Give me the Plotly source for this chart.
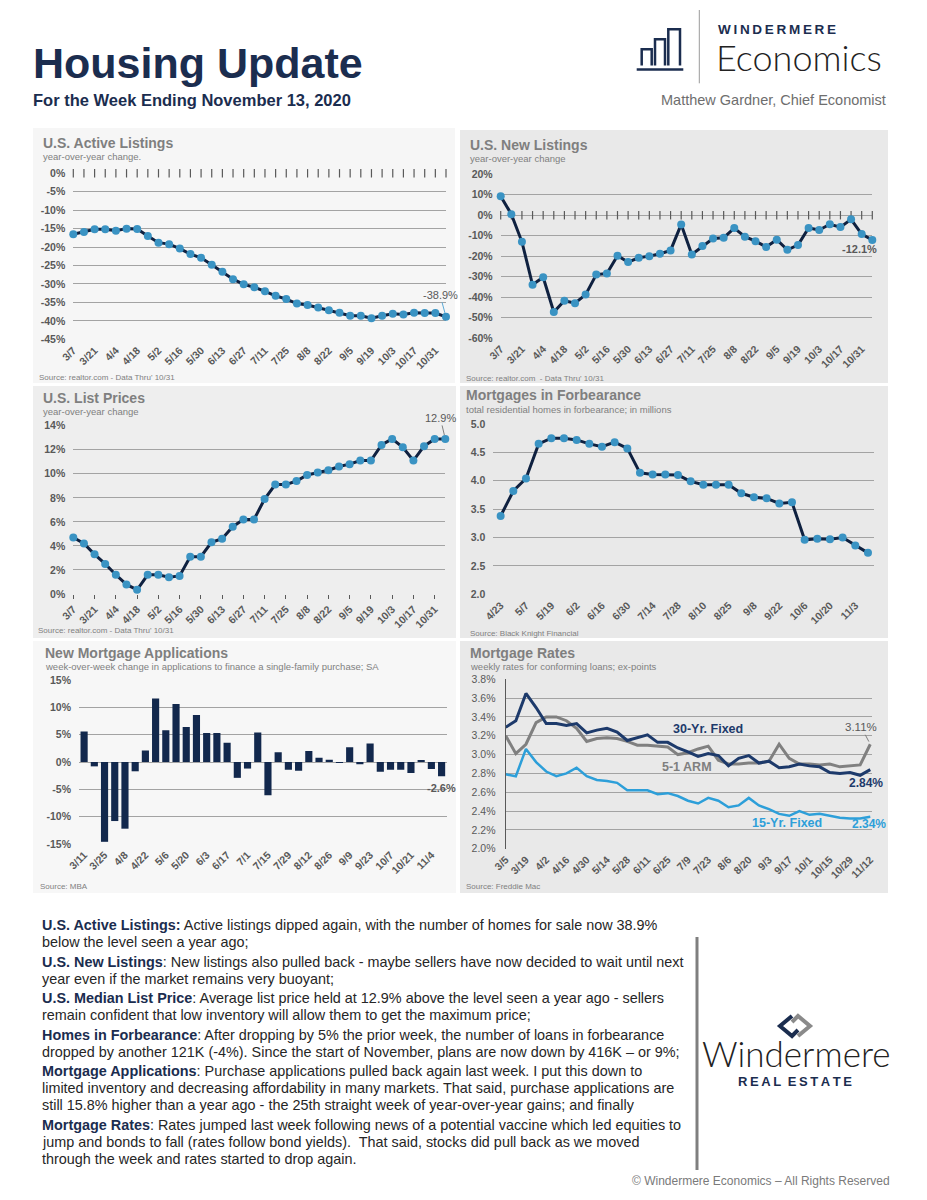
import plotly.graph_objects as go

W, H = 927, 1200
OFF = 8  # page body margin compensation
FONT = "Liberation Sans, Arial, sans-serif"
NAVY = "#1b2d4f"
GRAY = "#7f7f7f"
TICKGRAY = "#595959"
LINE_NAVY = "#0f2140"
MARKER_BLUE = "#3a93c3"


def px(x):
    return (x - OFF) / W


def py(y):
    return 1 - (y - OFF) / H


# ---------------- DATA ----------------
al_dates = ["3/7", "3/14", "3/21", "3/28", "4/4", "4/11", "4/18", "4/25", "5/2", "5/9", "5/16", "5/23",
            "5/30", "6/6", "6/13", "6/20", "6/27", "7/4", "7/11", "7/18", "7/25", "8/1", "8/8", "8/15",
            "8/22", "8/29", "9/5", "9/12", "9/19", "9/26", "10/3", "10/10", "10/17", "10/24", "10/31", "11/7"]
active_listings = [-16.5, -15.9, -15.2, -15.2, -15.6, -15.0, -15.1, -17.0, -18.8, -19.2, -20.4, -21.9,
                   -22.9, -24.8, -26.7, -28.7, -30.1, -30.9, -32.0, -33.2, -34.1, -35.3, -35.7, -36.4,
                   -37.1, -37.8, -38.6, -38.6, -39.3, -38.6, -38.1, -38.3, -37.8, -37.9, -37.9, -38.9]
new_listings = [9.3, 0.5, -13.0, -34.0, -30.3, -47.3, -41.8, -43.0, -38.8, -29.0, -28.5, -19.8,
                -22.9, -20.8, -20.0, -18.8, -17.2, -4.5, -19.2, -15.1, -11.4, -11.0, -6.3, -10.5,
                -12.7, -15.5, -12.0, -16.9, -14.6, -6.2, -7.2, -4.4, -5.8, -2.0, -9.2, -12.1]
list_prices = [4.7, 4.2, 3.3, 2.5, 1.6, 0.8, 0.35, 1.6, 1.6, 1.4, 1.5, 3.1,
               3.1, 4.3, 4.6, 5.6, 6.2, 6.2, 7.9, 9.1, 9.1, 9.4, 9.9, 10.1,
               10.3, 10.6, 10.8, 11.1, 11.1, 12.4, 12.9, 12.2, 11.1, 12.3, 12.9, 12.9]

fb_dates = ["4/23", "4/30", "5/7", "5/12", "5/19", "5/26", "6/2", "6/9", "6/16", "6/23", "6/30", "7/7",
            "7/14", "7/21", "7/28", "8/4", "8/10", "8/18", "8/25", "9/1", "9/8", "9/15", "9/22", "9/29",
            "10/6", "10/13", "10/20", "10/27", "11/3", "11/10"]
forbearance = [3.38, 3.82, 4.04, 4.65, 4.75, 4.75, 4.72, 4.65, 4.60, 4.68, 4.57, 4.14,
               4.11, 4.11, 4.10, 3.99, 3.93, 3.93, 3.93, 3.78, 3.71, 3.69, 3.60, 3.62,
               2.96, 2.98, 2.97, 3.00, 2.86, 2.73]

ma_dates = ["3/11", "3/18", "3/25", "4/1", "4/8", "4/15", "4/22", "4/29", "5/6", "5/13", "5/20", "5/27",
            "6/3", "6/10", "6/17", "6/24", "7/1", "7/8", "7/15", "7/22", "7/29", "8/5", "8/12", "8/19",
            "8/26", "9/2", "9/9", "9/16", "9/23", "9/30", "10/7", "10/14", "10/21", "10/28", "11/4", "11/11"]
mortgage_apps = [5.6, -0.8, -14.6, -10.8, -12.2, -1.7, 2.1, 11.6, 5.8, 10.6, 6.4, 8.6,
                 5.3, 5.3, 3.5, -2.9, -1.2, 5.4, -6.1, 1.8, -1.4, -1.6, 2.0, 0.8,
                 0.4, -0.1, 2.7, -0.4, 3.4, -1.8, -1.4, -1.4, -2.0, 0.2, -1.3, -2.6]

mr_dates = ["3/5", "3/12", "3/19", "3/26", "4/2", "4/9", "4/16", "4/23", "4/30", "5/7", "5/14", "5/21",
            "5/28", "6/4", "6/11", "6/18", "6/25", "7/2", "7/9", "7/16", "7/23", "7/30", "8/6", "8/13",
            "8/20", "8/27", "9/3", "9/10", "9/17", "9/24", "10/1", "10/8", "10/15", "10/22", "10/29",
            "11/5", "11/12"]
fixed30 = [3.29, 3.36, 3.65, 3.50, 3.33, 3.33, 3.31, 3.33, 3.23, 3.26, 3.28, 3.24,
           3.15, 3.18, 3.21, 3.13, 3.13, 3.07, 3.03, 2.98, 3.01, 2.99, 2.88, 2.96,
           2.99, 2.91, 2.93, 2.86, 2.87, 2.90, 2.88, 2.87, 2.81, 2.80, 2.81, 2.78, 2.84]
fixed15 = [2.79, 2.77, 3.06, 2.92, 2.82, 2.77, 2.80, 2.86, 2.77, 2.73, 2.72, 2.70,
           2.62, 2.62, 2.62, 2.58, 2.59, 2.56, 2.51, 2.48, 2.54, 2.51, 2.44, 2.46,
           2.54, 2.46, 2.42, 2.37, 2.35, 2.40, 2.36, 2.37, 2.35, 2.33, 2.32, 2.32, 2.34]
arm51 = [3.20, 3.01, 3.11, 3.34, 3.40, 3.40, 3.36, 3.28, 3.14, 3.17, 3.18, 3.17,
         3.14, 3.10, 3.10, 3.09, 3.08, 3.00, 3.02, 3.06, 3.09, 2.94, 2.90, 2.90,
         2.91, 2.91, 2.93, 3.11, 2.96, 2.90, 2.90, 2.89, 2.90, 2.87, 2.88, 2.89, 3.11]

al_yticks = [0, -5, -10, -15, -20, -25, -30, -35, -40, -45]
nl_yticks = [20, 10, 0, -10, -20, -30, -40, -50, -60]
lp_yticks = [0, 2, 4, 6, 8, 10, 12, 14]
fb_yticks = [2.0, 2.5, 3.0, 3.5, 4.0, 4.5, 5.0]
ma_yticks = [15, 10, 5, 0, -5, -10, -15]
mr_yticks = [2.0, 2.2, 2.4, 2.6, 2.8, 3.0, 3.2, 3.4, 3.6, 3.8]

# ---------------- FIGURE ----------------
fig = go.Figure()
layout = dict(template="none", width=W, height=H, margin=dict(l=0, r=0, t=0, b=0, pad=0, autoexpand=False),
              paper_bgcolor="white", plot_bgcolor="rgba(0,0,0,0)", showlegend=False,
              font=dict(family=FONT))


def pct(v, dec=0):
    return f"{v:.{dec}f}%"


def add_axes(i, xd, yd, xr, yr, ytv, ytt, xcats, ybold=True, xticks=""):
    xk = "xaxis" if i == 1 else f"xaxis{i}"
    yk = "yaxis" if i == 1 else f"yaxis{i}"
    layout[xk] = dict(domain=[px(xd[0]), px(xd[1])], anchor=f"y{i}", type="category",
                      range=xr, showgrid=False, zeroline=False, showline=False, automargin=False,
                      tickmode="array", tickvals=xcats[::2], ticktext=xcats[::2],
                      tickangle=-45, ticks=xticks, ticklen=4, tickcolor=TICKGRAY,
                      tickfont=dict(size=10.5, color=TICKGRAY, family=FONT, weight="bold"),
                      ticklabelstandoff=2, fixedrange=True)
    layout[yk] = dict(domain=[py(yd[1]), py(yd[0])], anchor=f"x{i}", range=yr, automargin=False,
                      showgrid=True, gridcolor="#a3a3a3", gridwidth=1.3, zeroline=False, showline=False,
                      tickmode="array", tickvals=ytv, ticktext=ytt, ticks="",
                      tickfont=dict(size=10.5, color=TICKGRAY, family=FONT,
                                    weight="bold" if ybold else "normal"),
                      ticklabelstandoff=7, fixedrange=True)


def xa(i):
    return "x" if i == 1 else f"x{i}"


def ya(i):
    return "y" if i == 1 else f"y{i}"


# Panel backgrounds
panels = [(33, 128, 455, 383, "#f6f6f6"), (460, 130, 888, 383, "#e9e9e9"),
          (33, 386, 456, 638, "#eeeeee"), (460, 386, 888, 638, "#e9e9e9"),
          (33, 641, 456, 893, "#f7f7f7"), (460, 641, 888, 893, "#e9e9e9")]
shapes = []
for x0, y0, x1, y1, c in panels:
    shapes.append(dict(type="rect", xref="paper", yref="paper", x0=px(x0), x1=px(x1),
                       y0=py(y1), y1=py(y0), fillcolor=c, line=dict(width=0), layer="below"))

# Axes
add_axes(1, (73.3, 446), (173.3, 339.3), [0, 35], [-45, 0], al_yticks, [pct(v) for v in al_yticks], al_dates)
add_axes(2, (500.7, 872.3), (174.3, 338), [0, 35], [-60, 20], nl_yticks, [pct(v) for v in nl_yticks], al_dates)
add_axes(3, (73.3, 445.3), (425.7, 594), [0, 35], [0, 14], lp_yticks, [pct(v) for v in lp_yticks], al_dates,
         xticks="outside")
add_axes(4, (493.3, 874.3), (424, 594.3), [-0.58, 29.5], [2.0, 5.0], fb_yticks, [f"{v:.1f}" for v in fb_yticks],
         fb_dates)
add_axes(5, (79, 446.7), (680, 844), [-0.5, 35.5], [-15, 15], ma_yticks, [pct(v) for v in ma_yticks], ma_dates)
add_axes(6, (505.7, 872.3), (679.3, 848.7), [0, 36.2], [2.0, 3.8], mr_yticks, [pct(v, 1) for v in mr_yticks],
         mr_dates, ybold=False)
layout["yaxis6"]["showline"] = True
layout["yaxis6"]["linecolor"] = "#595959"
layout["yaxis6"]["linewidth"] = 1.2
layout["xaxis3"]["ticklabelstandoff"] = 0

# axis tick marks along the zero line (panels 1 and 2)
for i, cats in ((1, al_dates), (2, al_dates)):
    fig.add_trace(go.Scatter(x=cats, y=[0] * len(cats), mode="markers", xaxis=xa(i), yaxis=ya(i),
                             marker=dict(symbol="line-ns", size=6, line=dict(width=1.2, color="#595959")),
                             hoverinfo="skip", cliponaxis=False))


def line_marker(i, xs, ys):
    fig.add_trace(go.Scatter(x=xs, y=ys, mode="lines+markers", xaxis=xa(i), yaxis=ya(i),
                             line=dict(color=LINE_NAVY, width=3),
                             marker=dict(color=MARKER_BLUE, size=8, line=dict(width=0)),
                             cliponaxis=False))


line_marker(1, al_dates, active_listings)
line_marker(2, al_dates, new_listings)
line_marker(3, al_dates, list_prices)
line_marker(4, fb_dates, forbearance)

fig.add_trace(go.Bar(x=ma_dates, y=mortgage_apps, xaxis="x5", yaxis="y5", marker=dict(color="#12284d",
                     line=dict(width=0)), width=0.7))

fig.add_trace(go.Scatter(x=mr_dates, y=arm51, mode="lines", xaxis="x6", yaxis="y6",
                         line=dict(color="#808080", width=3), cliponaxis=False))
fig.add_trace(go.Scatter(x=mr_dates, y=fixed15, mode="lines", xaxis="x6", yaxis="y6",
                         line=dict(color="#2d9fd9", width=2.5), cliponaxis=False))
fig.add_trace(go.Scatter(x=mr_dates, y=fixed30, mode="lines", xaxis="x6", yaxis="y6",
                         line=dict(color="#1d3a6b", width=3), cliponaxis=False))

ann = []


def txt(x, y, s, size, color, weight="normal", xanchor="left", family=FONT, yanchor="middle"):
    ann.append(dict(x=px(x), y=py(y), xref="paper", yref="paper", text=s, showarrow=False,
                    xanchor=xanchor, yanchor=yanchor, align="left",
                    font=dict(size=size, color=color, family=family, weight=weight)))


# Panel titles / subtitles / sources
titles = [
    (43, 143, "U.S. Active Listings", 157, "year-over-year change.", 39, 377, "Source: realtor.com - Data Thru' 10/31"),
    (470, 145, "U.S. New Listings", 158.3, "year-over-year change", 466, 378, "Source: realtor.com  - Data Thru' 10/31"),
    (43, 397.7, "U.S. List Prices", 411, "year-over-year change", 38, 630, "Source: realtor.com - Data Thru' 10/31"),
    (466, 395, "Mortgages in Forbearance", 409, "total residential homes in forbearance; in millions", 470, 633,
     "Source: Black Knight Financial"),
    (45, 653.3, "New Mortgage Applications", 666.7,
     "week-over-week change in applications to finance a single-family purchase; SA", 40, 886.7, "Source: MBA"),
    (470, 652.7, "Mortgage Rates", 666, "weekly rates for conforming loans; ex-points", 466, 886.7,
     "Source: Freddie Mac"),
]
for tx, ty, t, sy, s, sx, sry, src in titles:
    txt(tx - 2, ty, t, 14, GRAY, "bold")
    txt(tx - 2, sy, s, 9.5, GRAY)
    txt(sx - 2, sry, src, 8, GRAY)

# Data labels
ann.append(dict(x=al_dates[-1], y=active_listings[-1], xref="x", yref="y", text="-38.9%", showarrow=True,
                arrowhead=0, arrowwidth=1, arrowcolor="#5aa9d6", ax=-6, ay=-22, standoff=4,
                font=dict(size=11, color=TICKGRAY, family=FONT)))
ann.append(dict(x=al_dates[-1], y=new_listings[-1], xref="x2", yref="y2", text="-12.1%", showarrow=False,
                xshift=-13, yshift=-9, font=dict(size=11, color=TICKGRAY, family=FONT, weight="bold")))
ann.append(dict(x=al_dates[-1], y=list_prices[-1], xref="x3", yref="y3", text="12.9%", showarrow=True,
                arrowhead=0, arrowwidth=1, arrowcolor="#7f7f7f", ax=-5, ay=-21, standoff=4,
                font=dict(size=11, color=TICKGRAY, family=FONT)))
ann.append(dict(x=ma_dates[-1], y=mortgage_apps[-1], xref="x5", yref="y5", text="-2.6%", showarrow=False,
                yshift=-12, font=dict(size=11, color=TICKGRAY, family=FONT, weight="bold")))
ann.append(dict(x=mr_dates[-1], y=arm51[-1], xref="x6", yref="y6", text="3.11%", showarrow=True,
                arrowhead=0, arrowwidth=1, arrowcolor="#7f7f7f", ax=-9, ay=-17, standoff=3,
                font=dict(size=11.5, color=TICKGRAY, family=FONT)))
ann.append(dict(x=mr_dates[-1], y=fixed30[-1], xref="x6", yref="y6", text="2.84%", showarrow=False,
                xshift=-4, yshift=-13, font=dict(size=12, color="#1d3a6b", family=FONT, weight="bold")))
ann.append(dict(x=mr_dates[-1], y=fixed15[-1], xref="x6", yref="y6", text="2.34%", showarrow=False,
                xshift=-1, yshift=-7, font=dict(size=12, color="#2d9fd9", family=FONT, weight="bold")))
txt(708.3, 729.3, "30-Yr. Fixed", 12.5, "#1d3a6b", "bold", xanchor="center")
txt(686.7, 766.7, "5-1 ARM", 12.5, "#7f7f7f", "bold", xanchor="center")
txt(786.7, 823.3, "15-Yr. Fixed", 12.5, "#2d9fd9", "bold", xanchor="center")

# Header
txt(31, 63, "Housing Update", 43, NAVY, "bold")
txt(31, 100, "For the Week Ending November 13, 2020", 16.5, NAVY, "bold")
T = "\u2009"
txt(716, 30, T.join("WINDERMERE"), 13.5, NAVY, "bold")
txt(714, 57, "Economics", 36, "#222222", 300, family="Lato, Liberation Sans, sans-serif")
txt(888, 100, "Matthew Gardner, Chief Economist", 14.5, "#6e6e6e", xanchor="right")

# Logo icon
for x0, x1, top in ((641.7, 651.7, 49.3), (655.0, 665.0, 39.3), (668.3, 680.0, 29.3)):
    shapes.append(dict(type="path", xref="paper", yref="paper",
                       path=f"M {px(x0)},{py(65.5)} L {px(x0)},{py(top)} L {px(x1)},{py(top)} L {px(x1)},{py(65.5)}",
                       line=dict(color=NAVY, width=2.5)))
shapes.append(dict(type="line", xref="paper", yref="paper", x0=px(636.7), x1=px(683.3), y0=py(69.5), y1=py(69.5),
                   line=dict(color=NAVY, width=2.5)))
shapes.append(dict(type="line", xref="paper", yref="paper", x0=px(699.3), x1=px(699.3), y0=py(10), y1=py(83.3),
                   line=dict(color="#9a9a9a", width=1)))

# Body text
body = [
    (925, "<b>U.S. Active Listings:</b> Active listings dipped again, with the number of homes for sale now 38.9%"),
    (942, "below the level seen a year ago;"),
    (962, "<b>U.S. New Listings</b>: New listings also pulled back - maybe sellers have now decided to wait until next"),
    (979, "year even if the market remains very buoyant;"),
    (998, "<b>U.S. Median List Price</b>: Average list price held at 12.9% above the level seen a year ago - sellers"),
    (1015, "remain confident that low inventory will allow them to get the maximum price;"),
    (1035, "<b>Homes in Forbearance</b>: After dropping by 5% the prior week, the number of loans in forbearance"),
    (1052, "dropped by another 121K (-4%). Since the start of November, plans are now down by 416K \u2013 or 9%;"),
    (1071, "<b>Mortgage Applications</b>: Purchase applications pulled back again last week. I put this down to"),
    (1088, "limited inventory and decreasing affordability in many markets. That said, purchase applications are"),
    (1105, "still 15.8% higher than a year ago - the 25th straight week of year-over-year gains; and finally"),
    (1125, "<b>Mortgage Rates</b>: Rates jumped last week following news of a potential vaccine which led equities to"),
    (1142, "jump and bonds to fall (rates follow bond yields).  That said, stocks did pull back as we moved"),
    (1159, "through the week and rates started to drop again."),
]
for y, s in body:
    s = s.replace("<b>", f"<span style='color:{NAVY}'><b>").replace("</b>", "</b></span>")
    txt(40, y, s, 14.4, "#262626")

# Windermere logo
shapes.append(dict(type="line", xref="paper", yref="paper", x0=px(697), x1=px(697), y0=py(937), y1=py(1170),
                   line=dict(color="#7f7f7f", width=3)))
shapes.append(dict(type="path", xref="paper", yref="paper",
                   path=f"M {px(792)},{py(1016)} L {px(780)},{py(1026)} L {px(792)},{py(1036)} L {px(798)},{py(1030)}",
                   line=dict(color=NAVY, width=4)))
shapes.append(dict(type="path", xref="paper", yref="paper",
                   path=f"M {px(792)},{py(1022)} L {px(798)},{py(1016)} L {px(810)},{py(1026)} L {px(798)},{py(1036)}",
                   line=dict(color="#8a8a8a", width=4)))
txt(796, 1053, "Windermere", 35, "#222222", 300, xanchor="center", family="Lato, Liberation Sans, sans-serif")
txt(795, 1081, T.join("REAL") + "\u2002" + T.join("ESTATE"), 13, NAVY, "bold", xanchor="center")

txt(892, 1181, "\u00a9 Windermere Economics \u2013 All Rights Reserved", 12, "#7a7a7a", xanchor="right")

layout["shapes"] = shapes
layout["annotations"] = ann
fig.update_layout(**layout)
fig.write_html("out.html")
